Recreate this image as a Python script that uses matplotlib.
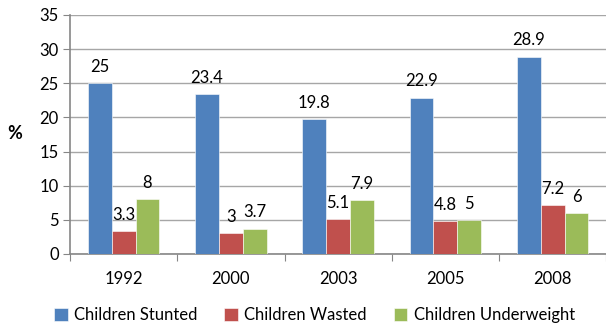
import matplotlib.pyplot as plt
import numpy as np

years = ['1992', '2000', '2003', '2005', '2008']
stunted = [25, 23.4, 19.8, 22.9, 28.9]
wasted = [3.3, 3, 5.1, 4.8, 7.2]
underweight = [8, 3.7, 7.9, 5, 6]
series = ['Children Stunted', 'Children Wasted', 'Children Underweight']
colors = ['#4F81BD', '#C0504D', '#9BBB59']

plt.rcParams['font.family'] = ['Lato', 'DejaVu Sans']
fs = 12

fig = plt.figure(figsize=(6.06, 3.26), dpi=100)
ax = fig.add_axes([0.1155, 0.221, 0.885, 0.733])

x = np.arange(len(years))
w = 1 / 4.5
for i, (vals, c, lab) in enumerate(zip([stunted, wasted, underweight], colors, series)):
    pos = x + (i - 1) * w
    ax.bar(pos, vals, w, color=c, label=lab, edgecolor='white', linewidth=0.4, zorder=3)
    for xp, v in zip(pos, vals):
        ax.text(xp, v + 1.2, f'{v:g}', ha='center', va='bottom', fontsize=fs, zorder=4)

ax.set_xlim(-0.5, len(years) - 0.5)
ax.set_ylim(0, 35)
ax.set_yticks(np.arange(0, 36, 5))
ax.set_xticks(np.arange(-0.5, len(years), 1))
ax.set_xticklabels([])
ax.set_xticks(x, minor=True)
ax.set_xticklabels(years, minor=True)
ax.tick_params(axis='x', which='minor', length=0, pad=12, labelsize=fs)
ax.tick_params(axis='x', which='major', length=5, color='#868686', direction='out')
ax.tick_params(axis='y', length=5, color='#868686', labelsize=fs, pad=3)
ax.yaxis.grid(True, color='#A6A6A6', linewidth=1, zorder=0)
ax.set_axisbelow(True)
for s in ['top', 'right']:
    ax.spines[s].set_visible(False)
for s in ['left', 'bottom']:
    ax.spines[s].set_color('#868686')
    ax.spines[s].set_linewidth(1.2)

fig.text(0.025, 0.59, '%', fontsize=13, fontweight='bold', ha='center', va='center')

fig.legend(loc='center', bbox_to_anchor=(0.519, 11 / 326), ncol=3, frameon=False,
           fontsize=fs, handlelength=0.8, handleheight=0.8, handletextpad=0.4,
           columnspacing=1.6, borderaxespad=0, borderpad=0)

fig.savefig('out.png', dpi=100)
